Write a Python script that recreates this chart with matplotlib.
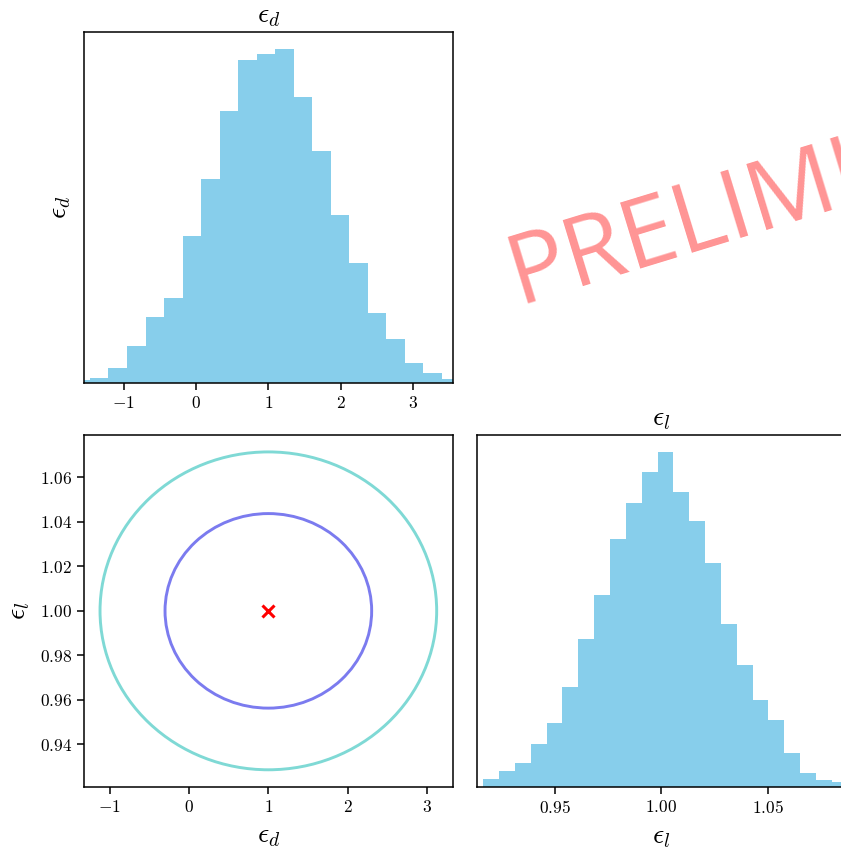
import matplotlib
matplotlib.use("Agg")
import matplotlib.pyplot as plt
from matplotlib.patches import Ellipse
import numpy as np

plt.rcParams['font.family'] = 'serif'
plt.rcParams['font.serif'] = ['cmr10', 'DejaVu Serif']
plt.rcParams['mathtext.fontset'] = 'cm'
plt.rcParams['axes.formatter.use_mathtext'] = True
plt.rcParams['axes.unicode_minus'] = True

# ---- data ----
eps_d_edges = [-1.723, -1.467, -1.211, -0.954, -0.698, -0.442, -0.186, 0.070, 0.327,
               0.583, 0.839, 1.095, 1.351, 1.608, 1.864, 2.120, 2.376, 2.632, 2.889,
               3.145, 3.401, 3.657]
eps_d_counts = [10, 15, 45, 113, 200, 256, 441, 613, 817, 968, 986, 1002, 857, 697,
                504, 362, 210, 133, 60, 32, 13]

eps_l_edges = [0.9166, 0.9240, 0.9314, 0.9388, 0.9463, 0.9537, 0.9611, 0.9686, 0.9760,
               0.9834, 0.9908, 0.9983, 1.0057, 1.0131, 1.0205, 1.0280, 1.0354, 1.0428,
               1.0502, 1.0577, 1.0651, 1.0725, 1.0799, 1.0873]
eps_l_counts = [22, 47, 71, 127, 192, 300, 442, 576, 743, 849, 944, 1004, 883, 796,
                671, 488, 365, 259, 200, 100, 42, 20, 14]

contour_levels = ['68%', '95%']
contour_center = (1.0, 1.0)
contour_half_d = [1.3025, 2.122]
contour_half_l = [0.0437, 0.0714]
contour_colors = ['#7b7bef', '#7fd9d5']

true_value = (1.0, 1.0)

d_ticks = [-1, 0, 1, 2, 3]
l_ticks_2d = [0.94, 0.96, 0.98, 1.00, 1.02, 1.04, 1.06]
l_ticks_1d = [0.95, 1.00, 1.05]

hist_color = '#87ceeb'
label_d = r'$\epsilon_d$'
label_l = r'$\epsilon_l$'

# ---- figure ----
W, H = 841, 850
fig = plt.figure(figsize=(W / 100, H / 100), dpi=100)

def ax_at(x0, y0, x1, y1):
    return fig.add_axes([x0 / W, 1 - y1 / H, (x1 - x0) / W, (y1 - y0) / H])

ax_tl = ax_at(84, 32.3, 452.7, 383.3)
ax_bl = ax_at(84, 435, 452.7, 786.7)
ax_br = ax_at(477.3, 435, 846, 786.7)

tick_fs = 12.5
lab_fs = 20

for ax in (ax_tl, ax_bl, ax_br):
    for s in ax.spines.values():
        s.set_linewidth(1.1)
    ax.tick_params(labelsize=tick_fs, direction='out', length=5, width=1.1,
                   top=False, right=False)

# top-left: eps_d marginal
centers_d = [(a + b) / 2 for a, b in zip(eps_d_edges[:-1], eps_d_edges[1:])]
ax_tl.hist(centers_d, bins=eps_d_edges, weights=eps_d_counts, color=hist_color,
           histtype='stepfilled', linewidth=0)
ax_tl.set_xlim(-1.55, 3.552)
ax_tl.set_xticks(d_ticks)
ax_tl.set_yticks([])
ax_tl.set_title(label_d, fontsize=lab_fs, pad=7)
ax_tl.set_ylabel(label_d, fontsize=lab_fs, labelpad=8)

# bottom-right: eps_l marginal
centers_l = [(a + b) / 2 for a, b in zip(eps_l_edges[:-1], eps_l_edges[1:])]
ax_br.hist(centers_l, bins=eps_l_edges, weights=eps_l_counts, color=hist_color,
           histtype='stepfilled', linewidth=0)
ax_br.set_xlim(0.9138, 1.0866)
ax_br.set_xticks(l_ticks_1d)
ax_br.set_yticks([])
ax_br.set_title(label_l, fontsize=lab_fs, pad=7)
ax_br.set_xlabel(label_l, fontsize=lab_fs, labelpad=6)

# bottom-left: 2D contours
for hd, hl, c in zip(contour_half_d, contour_half_l, contour_colors):
    ax_bl.add_patch(Ellipse(contour_center, 2 * hd, 2 * hl, fill=False,
                            edgecolor=c, linewidth=2.1))
ax_bl.plot([true_value[0]], [true_value[1]], marker='x', color='red',
           markersize=8, markeredgewidth=2.2, linestyle='none')
ax_bl.set_xlim(-1.324, 3.324)
ax_bl.set_ylim(0.921, 1.079)
ax_bl.set_xticks(d_ticks)
ax_bl.set_yticks(l_ticks_2d)
ax_bl.set_xlabel(label_d, fontsize=lab_fs, labelpad=6)
ax_bl.set_ylabel(label_l, fontsize=lab_fs, labelpad=6)

# watermark
fig.text(518 / W, 1 - 304 / H, 'PRELIMINARY', family='Open Sans',
         fontsize=70, color='red', alpha=0.42, rotation=17,
         rotation_mode='anchor', ha='left', va='baseline')

fig.savefig('out.png', dpi=100)
